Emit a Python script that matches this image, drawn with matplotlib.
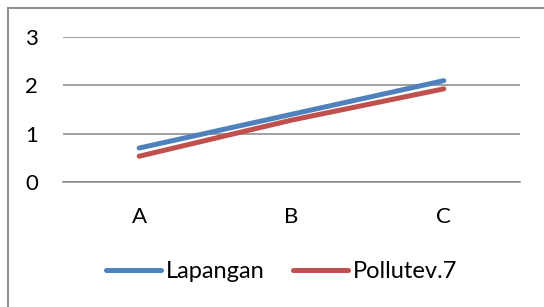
import matplotlib.pyplot as plt
from matplotlib.lines import Line2D
import numpy as np

# data
categories = ['A', 'B', 'C']
lapangan = [0.70, 1.40, 2.10]
pollutev7 = [0.53, 1.28, 1.93]
yticks = [0, 1, 2, 3]

plt.rcParams['font.family'] = ['Lato', 'DejaVu Sans']

fig = plt.figure(figsize=(5.44, 3.07), dpi=100)
ax = fig.add_axes([0.1158, 0.408, 0.8401, 0.4704])

x = np.arange(len(categories))
grid_col = '#868686'
ax.plot(x, lapangan, color='#4F81BD', linewidth=3.6, solid_capstyle='round', label='Lapangan')
ax.plot(x, pollutev7, color='#C0504D', linewidth=3.6, solid_capstyle='round', label='Pollutev.7')

ax.set_xlim(-0.5, 2.5)
ax.set_ylim(0, 3)
ax.set_yticks(yticks)
ax.set_xticks(x)
ax.set_xticklabels(categories)
ax.yaxis.grid(True, color=grid_col, linewidth=1.1)
ax.set_axisbelow(True)
for s in ['top', 'right', 'left']:
    ax.spines[s].set_visible(False)
ax.spines['bottom'].set_color(grid_col)
ax.spines['bottom'].set_linewidth(1.1)
ax.tick_params(axis='both', length=0, labelsize=16, colors='black')
ax.tick_params(axis='y', pad=18)
ax.tick_params(axis='x', pad=18)

# chart border (only top and left visible)
fig.add_artist(Line2D([7.5 / 544, 1.0], [1 - 7.5 / 307] * 2, transform=fig.transFigure,
                      color=grid_col, linewidth=1.3))
fig.add_artist(Line2D([7.5 / 544] * 2, [0.0, 1 - 7.5 / 307], transform=fig.transFigure,
                      color=grid_col, linewidth=1.3))

fig.legend(loc='center', bbox_to_anchor=(0.5175, 0.115), ncol=2, frameon=False,
           fontsize=17, handlelength=2.33, handletextpad=0.21, columnspacing=1.19)

fig.savefig('out.png', dpi=100)
